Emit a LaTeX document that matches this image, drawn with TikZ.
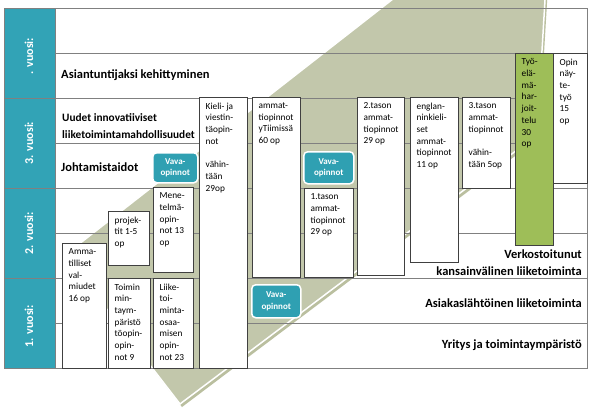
\documentclass[tikz,border=0pt]{standalone}
\usepackage{fontspec}
\setmainfont{Carlito}
\definecolor{tealc}{HTML}{32A3B6}
\definecolor{vavac}{HTML}{2FA0B2}
\definecolor{band}{HTML}{C2C7AB}
\definecolor{bandsh}{HTML}{BABF9F}
\definecolor{olive}{HTML}{9EBE58}
\definecolor{rowline}{HTML}{808080}
\definecolor{boxline}{HTML}{404040}
\tikzset{
  rowlbl/.style={font=\fontsize{12.5}{17}\selectfont\bfseries, inner sep=0},
  yearlbl/.style={font=\fontsize{12}{14}\selectfont\bfseries, text=white, rotate=90, inner sep=0},
  course/.style={draw=boxline, line width=0.9pt, inner sep=0, anchor=north west},
  ctext/.style={font=\fontsize{9.3}{11.7}\selectfont, align=left, inner sep=0, anchor=north west},
  vava/.style={draw=white, line width=1.5pt, fill=vavac, rounded corners=4pt, text=white,
    font=\fontsize{9}{11.5}\selectfont\bfseries, align=center, inner sep=0, anchor=north west},
  grid/.style={draw=rowline, line width=0.8pt},
}
\newcommand\course[7]{%
  \pgfmathsetmacro\cw{#4-#2}\pgfmathsetmacro\ch{#5-#3}%
  \node[course, fill=#6, minimum width=\cw pt, minimum height=\ch pt] (#1) at (#2,#3) {};
  \node[ctext] (#1t) at ([shift={(6.5,5.5)}]#1.north west) {#7};
}
\newcommand\vavabox[5]{%
  \pgfmathsetmacro\cw{#4-#2}\pgfmathsetmacro\ch{#5-#3}%
  \node[vava, minimum width=\cw pt, minimum height=\ch pt] (#1) at (#2,#3) {Vava-\\opinnot};
}
\begin{document}
\begin{tikzpicture}[x=1pt,y=-1pt]
\useasboundingbox (0,0) rectangle (590,416);
\fill[white] (0,0) rectangle (590,416);
% diagonal band
\begin{scope}
  \clip (0,0) rectangle (590,416);
  \begin{scope}[shift={(2,3)}]
    \fill[bandsh] (65,255) -- (398,-5) -- (545.3,-5) -- (537,135) -- (180,404) -- cycle;
  \end{scope}
  \filldraw[fill=band, draw=white, line width=1.5pt] (65,255) -- (398,-5) -- (545.3,-5) -- (537,135) -- (180,404) -- cycle;
\end{scope}
% grid lines
\foreach \yy in {53,98,143,188,233,278,323} {\draw[grid] (55,\yy) -- (587,\yy);}
\draw[grid] (4,8) -- (587,8) -- (587,368) -- (4,368);
% year column
\fill[tealc] (4,8) rectangle (55,368);
\draw[grid] (4,8) rectangle (55,368);
\foreach \yy in {98,188,278} {\draw[grid] (4,\yy) -- (55,\yy);}
\node[yearlbl] (y4) at (29,56) {. vuosi:};
\node[yearlbl] (y3) at (29,143) {3. vuosi:};
\node[yearlbl] (y2) at (29,233) {2. vuosi:};
\node[yearlbl] (y1) at (29,326) {1. vuosi:};
% row labels
\node[rowlbl, anchor=west] (r1) at (61,75) {Asiantuntijaksi kehittyminen};
\node[rowlbl, anchor=west, align=left, font=\fontsize{11.3}{16.5}\selectfont\bfseries] (r2) at (62,126) {Uudet innovatiiviset\\liiketoimintamahdollisuudet};
\node[rowlbl, anchor=west] (r3) at (61,167) {Johtamistaidot};
\node[rowlbl, anchor=east, align=right] (r4) at (582,263) {Verkostoitunut\\kansainvälinen liiketoiminta};
\node[rowlbl, anchor=east] (r5) at (582,303) {Asiakaslähtöinen liiketoiminta};
\node[rowlbl, anchor=east] (r6) at (582,345) {Yritys ja toimintaympäristö};
% courses
\course{amm}{62}{243}{106}{368}{white}{Amma-\\tilliset\\val-\\miudet\\16 op}
\course{proj}{108}{211}{149}{265}{white}{projek-\\tit 1-5\\op}
\course{mene}{153}{187}{193}{272}{white}{Mene-\\telmä-\\opin-\\not 13\\op}
\course{toim}{108}{278}{150}{368}{white}{Toimin\\min-\\taym-\\päristö\\töopin-\\opin-\\not 9}
\course{liike}{153}{278}{193}{368}{white}{Liike-\\toi-\\minta-\\osaa-\\misen\\opin-\\not 23}
\course{kieli}{199}{97}{247}{368}{white}{Kieli- ja\\viestin-\\täopin-\\not\\[11.7pt]vähin-\\tään\\29op}
\course{tiimi}{252}{97}{300}{277}{white}{ammat-\\tiopinnot\\yTiimissä\\60 op}
\course{tasoa}{304}{188}{353}{277}{white}{1.tason\\ammat-\\tiopinnot\\29 op}
\course{tasob}{357}{97}{404}{275}{white}{2.tason\\ammat-\\tiopinnot\\29 op}
\course{engl}{410}{97}{458}{262}{white}{englan-\\ninkieli-\\set\\ammat-\\tiopinnot\\11 op}
\course{tasoc}{462}{97}{510}{188}{white}{3.tason\\ammat-\\tiopinnot\\[11.7pt]vähin-\\tään 5op}
\course{tyo}{515}{53}{553}{245}{olive}{\fontsize{9.3}{12.9}\selectfont Työ-\\elä-\\mä-\\har-\\joit-\\telu\\30\\op}
\course{opin}{553}{53}{587}{183}{white}{\fontsize{9.3}{12.4}\selectfont Opin\\näy-\\te-\\työ\\15\\op}
% vava boxes
\vavabox{va}{152}{152}{197}{182}
\vavabox{vb}{303}{151}{353}{183}
\vavabox{vc}{251}{284}{300}{317}
\end{tikzpicture}
\end{document}
